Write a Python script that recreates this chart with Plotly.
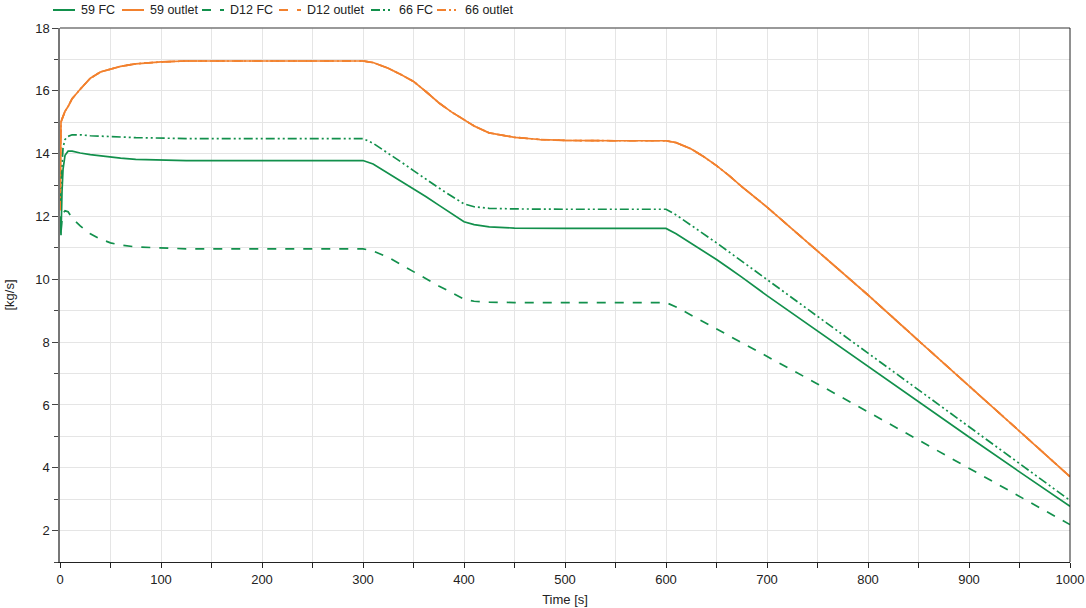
import plotly.graph_objects as go

time_s = [0, 0.5, 1, 2, 3, 5, 8, 12, 20, 30, 40, 50, 60, 75, 100, 125, 150, 200, 250, 300,
          310, 325, 337.5, 350, 362.5, 375, 387.5, 400, 410, 425, 450, 475, 500, 550, 600,
          610, 625, 637.5, 650, 662.5, 675, 700, 750, 800, 850, 900, 950, 1000]

fc_59 = [12.0, 11.4, 11.4, 12.8, 13.5, 13.95, 14.08, 14.08, 14.02, 13.97, 13.93, 13.9, 13.86, 13.82, 13.79, 13.78, 13.78, 13.78, 13.78, 13.78,
         13.67, 13.38, 13.13, 12.89, 12.63, 12.36, 12.1, 11.83, 11.74, 11.67, 11.63, 11.62, 11.62, 11.62, 11.62,
         11.45, 11.15, 10.9, 10.63, 10.35, 10.07, 9.48, 8.35, 7.22, 6.1, 4.98, 3.87, 2.77]

outlet_59 = [12.2, 13.5, 15.0, 15.1, 15.2, 15.35, 15.5, 15.75, 16.05, 16.4, 16.6, 16.7, 16.78, 16.86, 16.92, 16.95, 16.95, 16.95, 16.95, 16.95,
             16.9, 16.72, 16.52, 16.3, 15.97, 15.62, 15.33, 15.08, 14.88, 14.66, 14.52, 14.45, 14.42, 14.41, 14.41,
             14.35, 14.15, 13.9, 13.62, 13.3, 12.95, 12.3, 10.9, 9.5, 8.05, 6.6, 5.15, 3.72]

fc_d12 = [12.0, 11.6, 11.5, 11.9, 12.1, 12.18, 12.15, 11.95, 11.7, 11.45, 11.28, 11.16, 11.09, 11.03, 10.99, 10.97, 10.97, 10.97, 10.97, 10.97,
          10.9, 10.7, 10.47, 10.24, 10.01, 9.79, 9.58, 9.37, 9.3, 9.27, 9.26, 9.26, 9.26, 9.26, 9.26,
          9.12, 8.86, 8.63, 8.41, 8.2, 7.98, 7.55, 6.67, 5.78, 4.88, 3.98, 3.09, 2.19]

outlet_d12 = list(outlet_59)

fc_66 = [12.5, 12.6, 13.0, 13.8, 14.2, 14.45, 14.55, 14.6, 14.6, 14.57, 14.55, 14.54, 14.53, 14.51, 14.49, 14.48, 14.48, 14.48, 14.48, 14.48,
         14.33, 14.02, 13.74, 13.46, 13.18, 12.91, 12.65, 12.4, 12.31, 12.26, 12.24, 12.23, 12.23, 12.23, 12.23,
         12.05, 11.72, 11.45, 11.16, 10.87, 10.58, 10.0, 8.83, 7.65, 6.48, 5.3, 4.13, 2.96]

outlet_66 = list(outlet_59)

series_names = ["59 FC", "59 outlet", "D12 FC", "D12 outlet", "66 FC", "66 outlet"]
series_values = [fc_59, outlet_59, fc_d12, outlet_d12, fc_66, outlet_66]

GREEN = "#12904c"
ORANGE = "#f2812e"
DASHDOTDOT = "9px,3px,2px,3px,2px,3px"
colors = [GREEN, ORANGE, GREEN, ORANGE, GREEN, ORANGE]
dashes = ["solid", "solid", "dash", "dash", DASHDOTDOT, DASHDOTDOT]

# figure geometry (pixels)
W, H = 1086, 608
ML, MR, MT, MB = 60, 16, 28, 46
PW, PH = W - ML - MR, H - MT - MB

fig = go.Figure()
for name, vals, color, dash in zip(series_names, series_values, colors, dashes):
    fig.add_trace(go.Scatter(x=time_s, y=vals, mode="lines", name=name,
                             line=dict(color=color, width=1.7, dash=dash),
                             showlegend=False))

FONT = "Liberation Sans, Arial, sans-serif"

fig.update_layout(
    width=W, height=H,
    margin=dict(l=ML, r=MR, t=MT, b=MB, autoexpand=False),
    paper_bgcolor="white", plot_bgcolor="white",
    font=dict(family=FONT, size=13, color="#222222"),
    xaxis=dict(range=[0, 1000], dtick=100, tick0=0, showgrid=True, gridcolor="#e5e5e5", gridwidth=1,
               ticks="outside", ticklen=5, tickcolor="#222", showline=True, linecolor="#222", linewidth=1,
               zeroline=False,
               minor=dict(dtick=50, showgrid=True, gridcolor="#e5e5e5", ticks="outside", ticklen=5, tickcolor="#222"),
               title=dict(text="Time [s]", font=dict(size=13), standoff=9)),
    yaxis=dict(range=[1, 18], dtick=2, tick0=0, showgrid=True, gridcolor="#e5e5e5", gridwidth=1,
               ticks="outside", ticklen=6, tickcolor="#444", showline=True, linecolor="#777", linewidth=1.5,
               zeroline=False,
               minor=dict(dtick=1, showgrid=True, gridcolor="#e5e5e5", ticks="outside", ticklen=4, tickcolor="#444"),
               title=dict(text="[kg/s]", font=dict(size=13), standoff=18)),
)

# frame: top and right borders
fig.add_shape(type="line", xref="paper", yref="paper", x0=0, x1=1, y0=1, y1=1,
              line=dict(color="#777", width=1.5), layer="above")
fig.add_shape(type="line", xref="paper", yref="paper", x0=1, x1=1, y0=0, y1=1,
              line=dict(color="#222", width=1), layer="above")

# legend row at the top (pixel layout converted to paper coordinates)
legend_line_start = [53, 122, 202, 279, 371, 437]
LINE_LEN, TEXT_GAP, LEG_Y = 22, 4, 10
def px_to_xp(px):
    return (px - ML) / PW
def py_to_yp(py):
    return (MT + PH - py) / PH
for name, color, dash, x0 in zip(series_names, colors, dashes, legend_line_start):
    fig.add_shape(type="line", xref="paper", yref="paper",
                  x0=px_to_xp(x0), x1=px_to_xp(x0 + LINE_LEN),
                  y0=py_to_yp(LEG_Y), y1=py_to_yp(LEG_Y),
                  line=dict(color=color, width=2, dash=dash))
    fig.add_annotation(xref="paper", yref="paper", x=px_to_xp(x0 + LINE_LEN + TEXT_GAP),
                       y=py_to_yp(LEG_Y), text=name, showarrow=False,
                       xanchor="left", yanchor="middle",
                       font=dict(family=FONT, size=12.5, color="#222222"))

fig.write_html("out.html", config={"displayModeBar": False},
               post_script="document.body.style.margin='0';document.body.style.overflow='hidden';")
